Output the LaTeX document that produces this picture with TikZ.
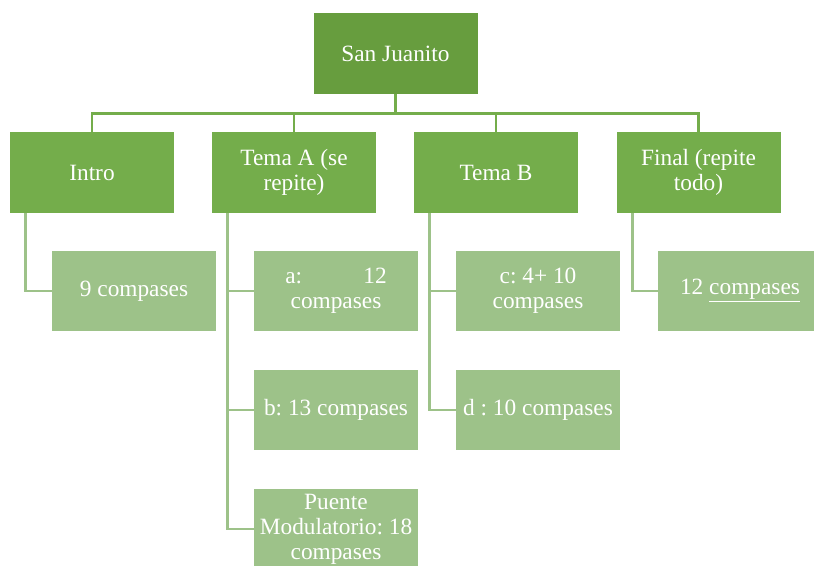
\documentclass[tikz,border=0pt]{standalone}
\usepackage{fontspec}
\setmainfont{Liberation Serif}
\usepackage{tikz}
\usetikzlibrary{positioning, calc}
\usepackage{xcolor}
\definecolor{rootgreen}{RGB}{103, 157, 62}
\definecolor{partgreen}{RGB}{116, 173, 75}
\definecolor{subgreen}{RGB}{157, 194, 137}
\frenchspacing

\begin{document}
\begin{tikzpicture}[
  x=0.75pt, y=-0.75pt,
  part/.style={fill=partgreen, text=white, minimum width=123pt, minimum height=60.75pt, align=center, inner sep=2pt, font=\fontsize{17.5}{18.8}\selectfont},
  root/.style={part, fill=rootgreen},
  sub/.style={part, fill=subgreen, minimum height=60pt},
  bus/.style={draw=partgreen, line width=2pt},
  link/.style={draw=subgreen, line width=2pt}
]
  \useasboundingbox (0,0) rectangle (814,565);
  \clip (0,0) rectangle (814,565);

  % Top
  \node[root] (sj) at (395.5, 53.5) {San Juanito};

  % Parts
  \node[part] (intro) at (92, 172.5) {Intro};
  \node[part] (temaA) at (294, 172.5) {Tema A (se\\repite)};
  \node[part] (temaB) at (496, 172.5) {Tema B};
  \node[part] (final) at (698.5, 172.5) {Final (repite\\todo)};

  % Sections
  \node[sub] (i1) at (134, 291) {9 compases};
  \node[sub] (a1) at (336, 291) {\makebox[76pt]{a:\hfill 12}\\compases};
  \node[sub] (a2) at (336, 410) {b: 13 compases};
  \node[sub] (a3) at (336, 529) {Puente\\Modulatorio: 18\\compases};
  \node[sub] (b1) at (538, 291) {c: 4+ 10\\compases};
  \node[sub] (b2) at (538, 410) {d : 10 compases};
  \node[sub] (f1) at (740, 291) {12 \underline{compases}};

  % Connectors
  \coordinate (hub) at ($(sj.south)+(0,19)$);
  \foreach \p in {intro, temaA, temaB, final}
    \draw[bus] (sj.south) -- (hub) -| (\p.north);
  \foreach \p/\c in {intro/i1, temaA/a1, temaA/a2, temaA/a3, temaB/b1, temaB/b2, final/f1}
    \draw[link] ([xshift=12pt]\p.south west) |- (\c.west);
\end{tikzpicture}
\end{document}
